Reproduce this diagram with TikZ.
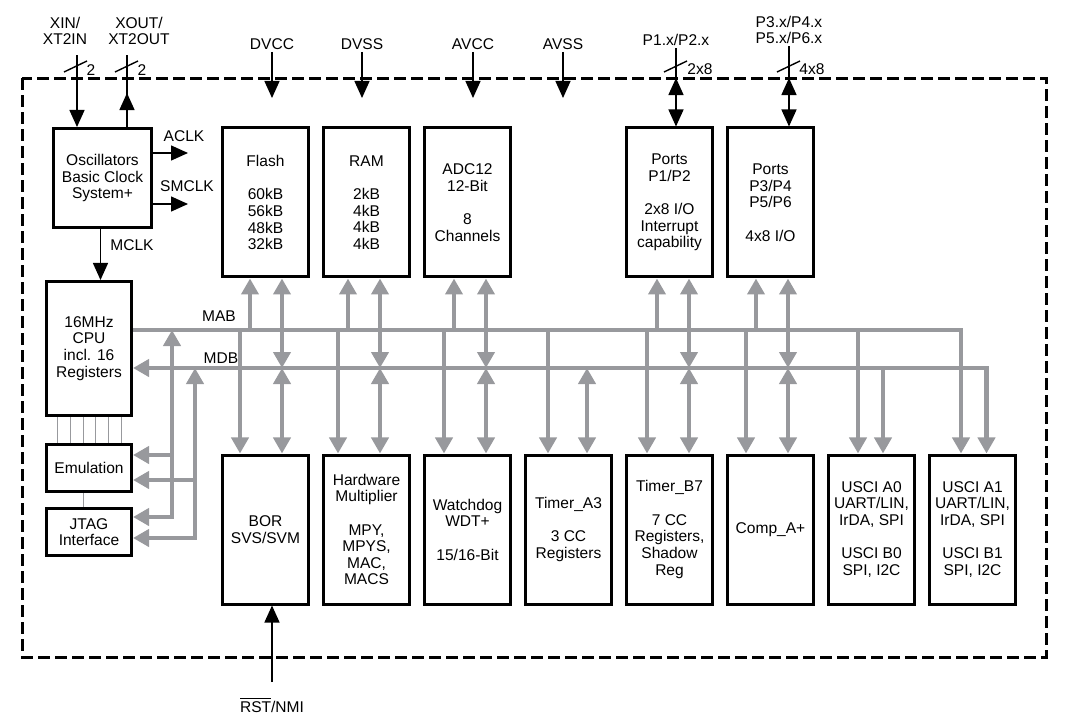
\documentclass[tikz,border=0pt]{standalone}
\usepackage{fontspec}
\setmainfont{Liberation Sans}
\usetikzlibrary{positioning}
\usetikzlibrary{arrows.meta}
\definecolor{busgray}{RGB}{152,153,157}

\begin{document}
\begin{tikzpicture}[x=0.5bp, y=-0.5bp,
  font=\fontsize{7.8}{8.35}\selectfont,
  node distance=6bp,
  module/.style={draw, line width=1.5bp, align=center, inner xsep=1bp, minimum width=43bp, minimum height=74.5bp},
  unit/.style={draw, line width=1.5bp, align=center, minimum width=42.5bp},
  lbl/.style={align=center, inner sep=1bp},
  bus/.style={draw=busgray, line width=2.2bp, >={Triangle[width=8.5bp,length=8bp]}},
  sig/.style={line width=0.7bp, >={Triangle[width=7.5bp,length=8.5bp]}},
  frame/.style={line width=1.5bp, dash pattern=on 6bp off 2.5bp},
  tie/.style={draw=busgray, line width=0.5bp}]
\useasboundingbox (0,0) rectangle (1067,726);
%\draw [help lines] (0,0) grid (1067,726);

\coordinate (frameNW) at (22,78);
\coordinate (frameSE) at (1046,657);
\draw[frame] (frameNW) rectangle (frameSE);

% peripherals, lower row
\node[module] (bor) at (265.5,529.5)  {BOR\\SVS/SVM};
\node[module, right = of bor]    (mult)   {Hardware\\Multiplier\\[8.35pt]MPY,\\MPYS,\\MAC,\\MACS};
\node[module, right = of mult]   (wdt)    {Watchdog\\WDT+\\[8.35pt]15/16-Bit};
\node[module, right = of wdt]    (timera) {Timer\_A3\\[8.35pt]3 CC\\Registers};
\node[module, right = of timera] (timerb) {Timer\_B7\\[8.35pt]7 CC\\Registers,\\Shadow\\Reg};
\node[module, right = of timerb] (comp)   {Comp\_A+};
\node[module, right = of comp]   (uscia)  {USCI A0\\UART/LIN,\\IrDA, SPI\\[8.35pt]USCI B0\\SPI, I2C};
\node[module, right = of uscia]  (uscib)  {USCI A1\\UART/LIN,\\IrDA, SPI\\[8.35pt]USCI B1\\SPI, I2C};

% memories and ports, upper row
\node[module, above = 87.5bp of bor]    (flash) {Flash\\[8.35pt]60kB\\56kB\\48kB\\32kB};
\node[module, right = of flash]         (ram)   {RAM\\[8.35pt]2kB\\4kB\\4kB\\4kB};
\node[module, right = of ram]           (adc)   {ADC12\\12-Bit\\[8.35pt]8\\Channels};
\node[module, above = 87.5bp of timerb] (pa)    {Ports\\P1/P2\\[8.35pt]2x8 I/O\\Interrupt\\capability};
\node[module, right = of pa]            (pb)    {Ports\\P3/P4\\P5/P6\\[8.35pt]4x8 I/O};

% clock, cpu, debug
\node[unit, minimum width=49bp, minimum height=49.5bp] (osc) at (102.5,178) {Oscillators\\Basic Clock\\System+};
\node[unit, minimum height=67bp]   (cpu)  at (89,348.5) {16MHz\\CPU\\incl. 16\\Registers};
\node[unit, minimum height=23.5bp] (emu)  at (89,468)   {Emulation};
\node[unit, minimum height=23.5bp] (jtag) at (89,532)   {JTAG\\Interface};

% pin labels
\node[lbl] (xinlbl)  at (65,31)  {XIN/\\XT2IN};
\node[lbl] (xoutlbl) at (139,31) {XOUT/\\XT2OUT};
\node[lbl] (dvcc)    at (272,44) {DVCC};
\node[lbl] (dvss)    at (362,44) {DVSS};
\node[lbl] (avcc)    at (473,44) {AVCC};
\node[lbl] (avss)    at (563,44) {AVSS};
\node[lbl] (p12lbl)  at (676,40) {P1.x/P2.x};
\node[lbl] (p36lbl)  at (789,30) {P3.x/P4.x\\P5.x/P6.x};
\node[lbl] (rst)     at (272,705) {$\overline{\mbox{RST}}$/NMI};

% supplies
\coordinate (vtip) at (0,98);
\foreach \p in {dvcc,dvss,avcc,avss}
  \draw[sig,->] (\p) -- (\p |- vtip);

% crystal pins
\coordinate (xin) at (77,55);
\coordinate (xout) at (127,55);
\coordinate (xouttip) at (127,93);
\draw[sig,->] (xin) -- (xin |- osc.north);
\draw[sig] (xout |- osc.north) -- (xout);
\draw[sig,->] (xout |- osc.north) -- (xouttip);
\draw[sig] (64,72) -- (87,61);
\node[lbl] (xinw) at (91,70) {2};
\draw[sig] (115,72) -- (138,61);
\node[lbl] (xoutw) at (142,70) {2};

% port pins
\draw[sig] (p12lbl) -- (p12lbl |- frameNW);
\draw[sig,<->] (p12lbl |- frameNW) -- (p12lbl |- pa.north);
\draw[sig] (664,72) -- (687,61);
\node[lbl] (p12w) at (700,69) {2x8};
\draw[sig] (p36lbl) -- (p36lbl |- frameNW);
\draw[sig,<->] (p36lbl |- frameNW) -- (p36lbl |- pb.north);
\draw[sig] (777,72) -- (800,61);
\node[lbl] (p36w) at (812,69) {4x8};

% clocks
\coordinate (aclk) at (188,153);
\coordinate (smclk) at (188,204);
\draw[sig,->] (osc.east |- aclk) -- (aclk);
\draw[sig,->] (osc.east |- smclk) -- (smclk);
\node[lbl] at (184,136) {ACLK};
\node[lbl] at (187,186) {SMCLK};
\draw[sig,->] ([xshift=-1bp]osc.south) -- ([xshift=-1bp]osc.south |- cpu.north);
\node[lbl] at (132,245) {MCLK};

% reset
\coordinate (rstend) at (272,682);
\draw[sig,->] (rstend) -- (rstend |- bor.south);

% MAB / MDB
\coordinate (mab) at (0,330);
\coordinate (mdb) at (0,368);
\draw[bus,->]  (cpu.east |- mab) -| ([xshift=-5.75bp]uscib.north);
\draw[bus,<->] (cpu.east |- mdb) -| ([xshift=7bp]uscib.north);
\node[lbl] at (219,316) {MAB};
\node[lbl] at (221,358) {MDB};

\foreach \m/\a/\d in {flash/-7.75bp/8.25bp, ram/-9.25bp/6.75bp, adc/-6.75bp/9.25bp, pa/-6.25bp/9.75bp, pb/-7.25bp/8.75bp}{
  \draw[bus,->]  ([xshift=\a]\m.south |- mab) -- ([xshift=\a]\m.south);
  \draw[bus,<->] ([xshift=\d]\m.south) -- ([xshift=\d]\m.south |- mdb);
}
\foreach \m/\a/\d in {bor/-12.75bp/8.25bp, mult/-14.25bp/6.75bp, wdt/-11.75bp/9.25bp, timera/-10.25bp/9.25bp, timerb/-11.25bp/9.75bp, comp/-12.25bp/8.75bp}{
  \draw[bus,->]  ([xshift=\a]\m.north |- mab) -- ([xshift=\a]\m.north);
  \draw[bus,<->] ([xshift=\d]\m.north |- mdb) -- ([xshift=\d]\m.north);
}
\draw[bus,->] ([xshift=-6.75bp]uscia.north |- mab) -- ([xshift=-6.75bp]uscia.north);
\draw[bus,->] ([xshift=5.75bp]uscia.north |- mdb) -- ([xshift=5.75bp]uscia.north);

% debug access
\coordinate (dbga) at (172,330);
\coordinate (dbgd) at (195,368);
\draw[bus,<->] ([yshift=7.5bp]jtag.east) -| (dbga);
\draw[bus,->]  ([yshift=6.5bp]emu.east -| dbga) -- ([yshift=6.5bp]emu.east);
\draw[bus,<->] ([yshift=-3bp]jtag.east) -| (dbgd);
\draw[bus,->]  ([yshift=-6bp]emu.east -| dbgd) -- ([yshift=-6bp]emu.east);

\foreach \k in {0,...,5}
  \draw[tie] ([xshift=-15.5bp+\k*6.3bp]cpu.south) -- ([xshift=-15.5bp+\k*6.3bp]cpu.south |- emu.north);
\draw[tie] ([xshift=-3bp]emu.south) -- ([xshift=-3bp]jtag.north);
\end{tikzpicture}
\end{document}
